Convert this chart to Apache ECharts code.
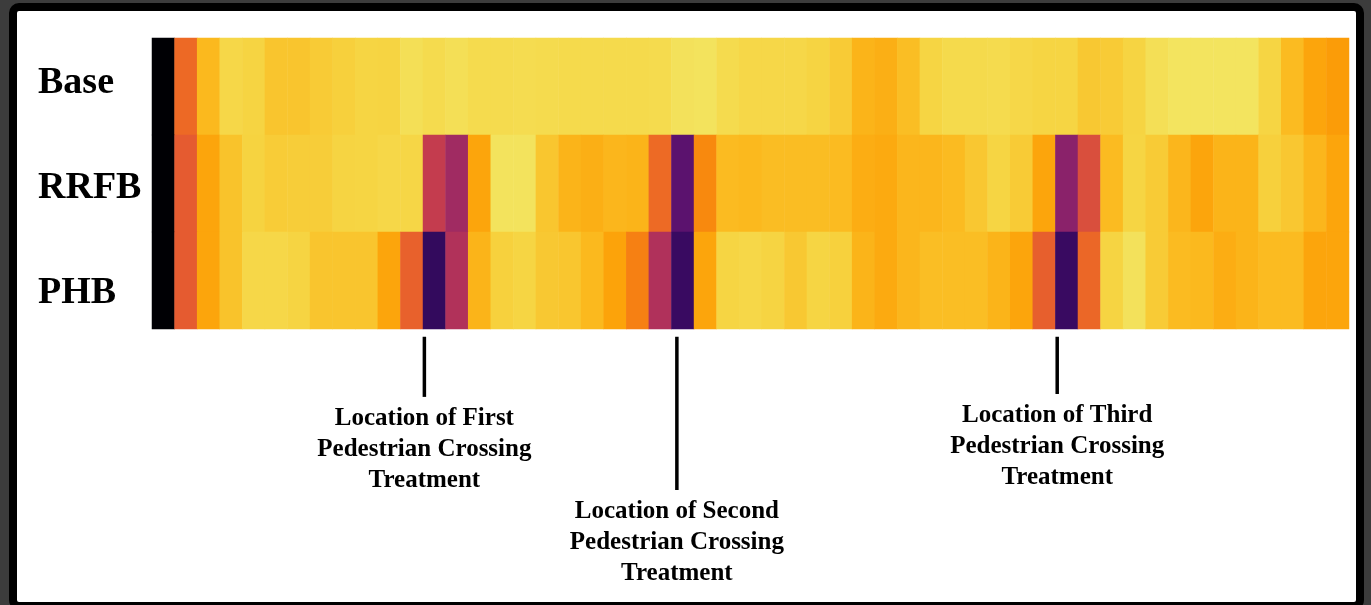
<!DOCTYPE html>
<html>
<head>
<meta charset="utf-8">
<title>Pedestrian Crossing Treatments</title>
<script src="https://cdn.jsdelivr.net/npm/echarts@6/dist/echarts.min.js"></script>
<style>
  html, body { margin: 0; padding: 0; background: #3c3c3c; }
  #chart { width: 1371px; height: 605px; }
</style>
</head>
<body>
<div id="chart"></div>
<script>
// Scenarios shown as heatmap rows, top to bottom
const scenarios = ['Base', 'RRFB', 'PHB'];
// Vertical position of each scenario name (row units, 0 = top edge)
const scenarioLabelY = [0.47, 1.55, 2.63];

// Normalised value per road segment (53 segments), 0 = lowest, 1 = highest
const baseValues = [
  0.00, 0.665, 0.84, 0.90, 0.893, 0.864, 0.864, 0.875, 0.885, 0.895,
  0.893, 0.917, 0.907, 0.917, 0.907, 0.907, 0.91, 0.907, 0.905, 0.905,
  0.905, 0.905, 0.907, 0.922, 0.925, 0.907, 0.90, 0.90, 0.90, 0.893,
  0.876, 0.83, 0.82, 0.85, 0.895, 0.905, 0.905, 0.907, 0.90, 0.895,
  0.895, 0.87, 0.876, 0.893, 0.917, 0.927, 0.927, 0.927, 0.927, 0.895,
  0.845, 0.80, 0.78
];
const rrfbValues = [
  0.00, 0.63, 0.80, 0.86, 0.89, 0.877, 0.88, 0.88, 0.893, 0.895,
  0.90, 0.898, 0.526, 0.43, 0.80, 0.925, 0.925, 0.865, 0.83, 0.82,
  0.835, 0.83, 0.667, 0.26, 0.74, 0.845, 0.84, 0.848, 0.848, 0.848,
  0.845, 0.815, 0.81, 0.835, 0.835, 0.845, 0.868, 0.895, 0.875, 0.80,
  0.375, 0.59, 0.845, 0.895, 0.875, 0.835, 0.80, 0.83, 0.83, 0.885,
  0.868, 0.835, 0.80
];
const phbValues = [
  0.00, 0.63, 0.80, 0.86, 0.90, 0.90, 0.893, 0.864, 0.864, 0.864,
  0.80, 0.645, 0.165, 0.475, 0.83, 0.886, 0.895, 0.87, 0.865, 0.84,
  0.795, 0.72, 0.47, 0.18, 0.80, 0.895, 0.90, 0.893, 0.87, 0.895,
  0.886, 0.83, 0.81, 0.835, 0.85, 0.85, 0.85, 0.83, 0.80, 0.64,
  0.18, 0.66, 0.893, 0.922, 0.875, 0.845, 0.84, 0.815, 0.83, 0.845,
  0.845, 0.80, 0.80
];

// Treatment locations, in segment units along the corridor
const treatmentX = [12.06, 23.24, 40.08];
// Where each leader line ends below the heatmap (row units, 3 = bottom edge)
const leaderEnd = [3.70, 4.66, 3.67];
const treatmentLabels = [
  ['Location of First', 'Pedestrian Crossing', 'Treatment'],
  ['Location of Second', 'Pedestrian Crossing', 'Treatment'],
  ['Location of Third', 'Pedestrian Crossing', 'Treatment']
];

// Inferno colour map stops
const inferno = [
  '#000004', '#08051E', '#190C3E', '#300A5B', '#460B6A', '#5C126E', '#711A6E',
  '#87216B', '#9C2964', '#B1325A', '#C43C4E', '#D64B40', '#E55C30', '#F1711F',
  '#F8870E', '#FCA007', '#FBBA1F', '#F6D543', '#F1ED71', '#FCFFA4'
];

const segmentCount = baseValues.length;
const segments = Array.from({ length: segmentCount }, (_, i) => String(i + 1));

const heatData = [];
[baseValues, rrfbValues, phbValues].forEach((row, r) => {
  row.forEach((v, c) => heatData.push([c, r, v]));
});

const annotationData = treatmentX.map((x, i) => [x, 3.08, leaderEnd[i], i]);
const scenarioLabelData = scenarioLabelY.map((y, i) => [0, y, i]);

const serif = '"Liberation Serif", "Times New Roman", serif';

const chart = echarts.init(document.getElementById('chart'), null, { renderer: 'canvas' });

chart.setOption({
  backgroundColor: 'transparent',
  animation: false,
  graphic: [{
    type: 'rect',
    z: -10,
    silent: true,
    shape: { x: 13, y: 7, width: 1347, height: 599, r: 6 },
    style: { fill: '#ffffff', stroke: '#000000', lineWidth: 8 }
  }],
  grid: { left: 152, top: 38, width: 1197, height: 291 },
  xAxis: [{
    type: 'category',
    data: segments,
    axisLine: { show: false },
    axisTick: { show: false },
    axisLabel: { show: false },
    splitLine: { show: false }
  }, {
    type: 'value',
    min: 0,
    max: segmentCount,
    show: false
  }],
  yAxis: [{
    type: 'category',
    data: scenarios,
    inverse: true,
    axisLine: { show: false },
    axisTick: { show: false },
    axisLabel: { show: false },
    splitLine: { show: false }
  }, {
    type: 'value',
    min: 0,
    max: 3,
    inverse: true,
    show: false
  }],
  visualMap: {
    type: 'continuous',
    show: false,
    min: 0,
    max: 1,
    seriesIndex: 0,
    inRange: { color: inferno }
  },
  series: [{
    type: 'heatmap',
    data: heatData,
    itemStyle: { borderWidth: 0 },
    emphasis: { disabled: true },
    progressive: 0
  }, {
    // Leader lines and captions for the crossing treatments
    type: 'custom',
    xAxisIndex: 1,
    yAxisIndex: 1,
    clip: false,
    silent: true,
    data: annotationData,
    renderItem: function (params, api) {
      const top = api.coord([api.value(0), api.value(1)]);
      const bottom = api.coord([api.value(0), api.value(2)]);
      const idx = api.value(3);
      return {
        type: 'group',
        children: [{
          type: 'line',
          shape: { x1: top[0], y1: top[1], x2: bottom[0], y2: bottom[1] },
          style: { stroke: '#000000', lineWidth: 3.5 }
        }, {
          type: 'text',
          x: bottom[0],
          y: bottom[1] + 6,
          style: {
            text: treatmentLabels[idx].join('\n'),
            fill: '#000000',
            fontFamily: serif,
            fontWeight: 'bold',
            fontSize: 25,
            lineHeight: 31,
            align: 'center',
            verticalAlign: 'top'
          }
        }]
      };
    }
  }, {
    // Scenario names to the left of the rows
    type: 'custom',
    xAxisIndex: 1,
    yAxisIndex: 1,
    clip: false,
    silent: true,
    data: scenarioLabelData,
    renderItem: function (params, api) {
      const p = api.coord([api.value(0), api.value(1)]);
      return {
        type: 'text',
        x: p[0] - 114,
        y: p[1],
        style: {
          text: scenarios[api.value(2)],
          fill: '#000000',
          fontFamily: serif,
          fontWeight: 'bold',
          fontSize: 38,
          align: 'left',
          verticalAlign: 'middle'
        }
      };
    }
  }]
});
</script>
</body>
</html>
